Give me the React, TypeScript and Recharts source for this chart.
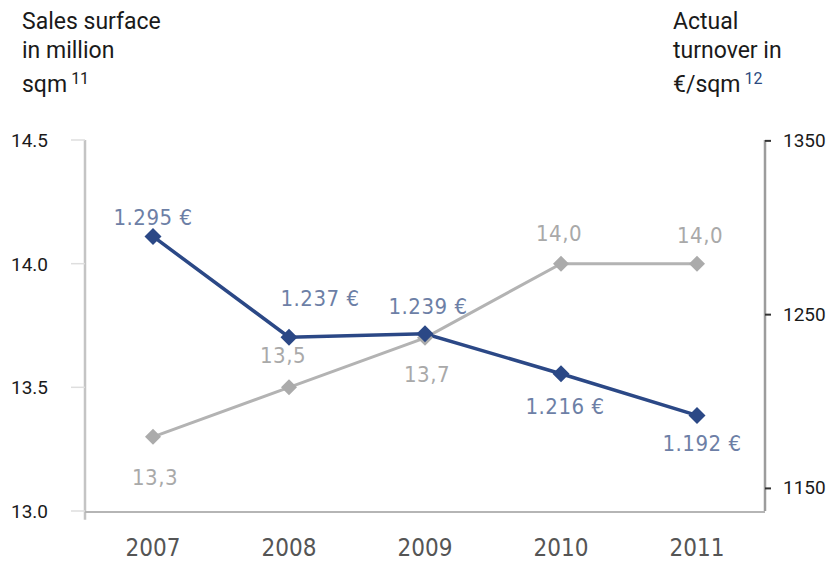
import { LineChart, Line, XAxis, YAxis, ReferenceLine } from 'recharts'

const years = ['2007', '2008', '2009', '2010', '2011']
const salesSurface = [13.3, 13.5, 13.7, 14.0, 14.0]
const turnover = [1295, 1237, 1239, 1216, 1192]
const leftTicks = [13.0, 13.5, 14.0, 14.5]
const rightTicks = [1150, 1250, 1350]
const bandTicks = [0, 1, 2, 3, 4, 5]

const data = years.map((year, i) => ({ year, surface: salesSurface[i], turnover: turnover[i] }))

// label placement around each point, [dx, dy]
const surfaceLabelPos = [[2, 41], [-6, -32], [2, 37], [-2, -30], [3, -28]]
const turnoverLabelPos = [[0, -19], [31, -39], [3, -27], [4, 33], [5, 28]]

const BLUE = '#2b4886'
const GREY = '#b3b3b3'
const narrow = "'Liberation Sans Narrow', 'DejaVu Sans Condensed', 'Roboto', sans-serif"
const din = "Roboto, 'Noto Sans', sans-serif"

function Diamond({ cx, cy, color, r }: { cx?: number; cy?: number; color: string; r: number }) {
  if (cx == null || cy == null) return null
  return <polygon points={`${cx},${cy - r} ${cx + r},${cy} ${cx},${cy + r} ${cx - r},${cy}`} fill={color} />
}

function fmtSurface(v: number) {
  return v.toFixed(1).replace('.', ',')
}

function fmtTurnover(v: number) {
  const s = String(v)
  return s.slice(0, 1) + '.' + s.slice(1) + ' €'
}

export default function App() {
  return (
    <div style={{ position: 'absolute', left: 0, top: 0, width: 828, height: 563, background: '#fff' }}>
      <div style={{ position: 'absolute', left: 22, top: 8, fontFamily: din, fontSize: 23, lineHeight: '28.5px', color: '#1a1a1a' }}>
        Sales surface<br />in million<br />sqm<sup style={{ fontSize: 16, marginLeft: 4, verticalAlign: 8 }}>11</sup>
      </div>
      <div style={{ position: 'absolute', left: 673, top: 8, fontFamily: din, fontSize: 23, lineHeight: '28.5px', color: '#1a1a1a' }}>
        Actual<br />turnover in<br />€/sqm<sup style={{ fontSize: 16, marginLeft: 4, verticalAlign: 8, color: '#2b4a7f' }}>12</sup>
      </div>
      <LineChart width={828} height={563} data={data} margin={{ top: 140, right: 0, bottom: 50, left: 0 }}>
        <XAxis
          dataKey="year"
          height={1}
          padding={{ left: 68, right: 68 }}
          axisLine={false}
          tickLine={false}
          tickSize={0}
          tickMargin={0}
          interval={0}
          tick={(p: any) => (
            <text key={p.index} x={p.x} y={p.y + 45} textAnchor="middle" fontFamily={narrow} fontSize={24} fill="#555">
              {p.payload.value}
            </text>
          )}
        />
        <XAxis
          xAxisId="grid"
          type="number"
          domain={[0, 5]}
          ticks={bandTicks}
          height={1}
          tick={false}
          tickSize={7}
          tickLine={{ stroke: '#b5b5b5', strokeWidth: 1.5 }}
          axisLine={{ stroke: '#b5b5b5', strokeWidth: 2 }}
        />
        <YAxis
          yAxisId="left"
          width={85}
          domain={[13, 14.5]}
          ticks={leftTicks}
          tickSize={14}
          tickLine={{ stroke: '#dedede', strokeWidth: 1.5 }}
          axisLine={false}
          tick={(p: any) => (
            <text key={p.index} x={p.x - 21} y={p.y} dy={7} textAnchor="end" fontFamily={din} fontSize={19} fill="#1a1a1a">
              {Number(p.payload.value).toFixed(1)}
            </text>
          )}
        />
        <YAxis
          yAxisId="right"
          orientation="right"
          width={63}
          domain={[1137, 1350.5]}
          ticks={rightTicks}
          allowDataOverflow
          tickSize={6}
          tickLine={{ stroke: '#333', strokeWidth: 2 }}
          axisLine={{ stroke: '#9c9c9c', strokeWidth: 2.5 }}
          tick={(p: any) => (
            <text key={p.index} x={p.x + 10} y={p.y} dy={6} textAnchor="start" fontFamily={din} fontSize={19} fill="#1a1a1a">
              {p.payload.value}
            </text>
          )}
        />
        {/* axis lines run a little past the plot area, as in the print */}
        <ReferenceLine
          xAxisId="grid"
          yAxisId="left"
          segment={[{ x: 0, y: 14.5 }, { x: 0, y: 12.965 }]}
          ifOverflow="visible"
          stroke="#c4c4c4"
          strokeWidth={2.5}
        />
        <ReferenceLine
          xAxisId="grid"
          yAxisId="left"
          segment={[{ x: 5, y: 14.613 }, { x: 5, y: 12.935 }]}
          ifOverflow="visible"
          stroke="#9c9c9c"
          strokeWidth={2.5}
        />
        <Line
          yAxisId="left"
          dataKey="surface"
          stroke={GREY}
          strokeWidth={3}
          isAnimationActive={false}
          dot={(p: any) => <Diamond key={p.index} cx={p.cx} cy={p.cy} color="#ababab" r={8} />}
          activeDot={false}
          label={(p: any) => {
            const [dx, dy] = surfaceLabelPos[p.index]
            return (
              <text key={p.index} x={p.x + dx} y={p.y + dy} textAnchor="middle" dominantBaseline="central" fontFamily={narrow} fontSize={22} letterSpacing={0.5} fill="#a9a9a9">
                {fmtSurface(p.value)}
              </text>
            )
          }}
        />
        <Line
          yAxisId="right"
          dataKey="turnover"
          stroke={BLUE}
          strokeWidth={3.5}
          isAnimationActive={false}
          dot={(p: any) => <Diamond key={p.index} cx={p.cx} cy={p.cy} color={BLUE} r={8.5} />}
          activeDot={false}
          label={(p: any) => {
            const [dx, dy] = turnoverLabelPos[p.index]
            return (
              <text key={p.index} x={p.x + dx} y={p.y + dy} textAnchor="middle" dominantBaseline="central" fontFamily={narrow} fontSize={22} letterSpacing={0.5} fill="#6d7fa6">
                {fmtTurnover(p.value)}
              </text>
            )
          }}
        />
      </LineChart>
    </div>
  )
}
